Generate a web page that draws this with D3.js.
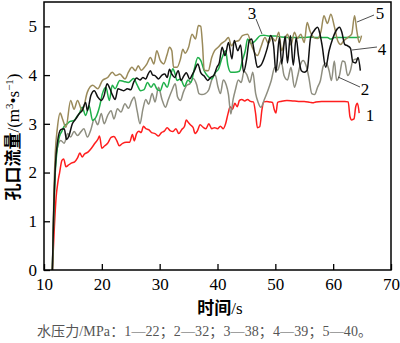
<!DOCTYPE html>
<html><head><meta charset="utf-8">
<script src="https://cdn.jsdelivr.net/npm/d3@7"></script>
<style>body{margin:0;background:#fff}svg{display:block}</style>
</head><body>
<svg id="c" width="400" height="343"></svg>
<script>
const xTicks=[10,20,30,40,50,60,70];
const yTicks=[0,1,2,3,4,5];
const seriesNames=["1","2","3","4","5"];
const legendNote="水压力/MPa：1—22；2—32；3—38；4—39；5—40。";

const t1=[11.45,11.8,12.1,12.4,12.7,13.1,13.4,13.8,14.2,14.8,15.3,15.8,16.2,16.6,17.0,17.6,18.2,18.8,19.3,19.6,20.0,20.5,21.0,21.6,22.1,22.6,23.0,23.6,24.2,24.8,25.3,25.6,26.0,26.4,26.8,27.2,27.6,28.1,28.6,29.2,29.8,30.3,30.8,31.3,31.8,32.3,32.8,33.3,33.8,34.3,34.6,35.0,35.4,35.8,36.1,36.5,37.0,37.5,38.0,38.5,39.0,39.5,40.0,40.5,41.0,41.4,41.8,42.2,42.6,43.0,43.4,43.8,44.2,44.7,45.2,45.7,46.2,46.6,46.9,47.3,47.7,48.0,48.5,49.0,49.5,49.8,50.1,50.4,51.0,52.0,53.0,54.0,55.0,56.0,56.5,57.0,58.0,59.0,60.0,61.0,62.0,62.6,62.9,63.2,63.6,63.9,64.2,64.5];
const v1=[0,0.9,1.5,1.8,2.0,2.25,2.28,2.12,2.15,2.2,2.22,2.3,2.4,2.32,2.38,2.42,2.5,2.6,2.68,2.75,2.5,2.55,2.6,2.72,2.74,2.65,2.55,2.6,2.62,2.62,2.78,2.65,2.8,2.85,2.82,2.95,2.9,2.88,2.82,2.8,2.75,2.82,2.85,2.92,2.86,2.84,2.9,2.8,2.88,2.95,3.08,3.02,2.97,2.92,2.8,2.85,2.98,2.93,2.9,3.0,2.9,2.92,2.9,2.95,2.9,3.0,3.2,3.35,3.3,3.42,3.35,3.48,3.5,3.47,3.5,3.46,3.45,3.2,2.92,2.94,3.3,3.45,3.46,3.45,3.44,3.3,3.22,3.44,3.46,3.48,3.47,3.46,3.46,3.44,3.43,3.45,3.46,3.46,3.46,3.46,3.46,3.45,3.15,3.08,3.1,3.35,3.42,3.22];

const t2=[11.45,11.7,11.95,12.3,12.9,13.5,14.1,14.6,15.2,15.8,16.4,16.9,17.5,18.1,18.7,19.3,19.9,20.4,21.0,21.6,22.1,22.7,23.3,24.0,24.6,25.2,25.6,26.1,26.6,27.1,27.6,28.1,28.7,29.2,29.8,30.4,31.0,31.5,32.1,32.7,33.1,33.6,34.1,34.7,35.2,35.8,36.4,36.8,37.3,37.9,38.5,39.0,39.6,40.1,40.5,41.0,41.5,41.9,42.3,42.7,43.1,43.6,44.1,44.6,45.1,45.6,46.1,46.6,47.0,47.5,48.1,48.7,49.3,49.9,50.4,51.0,51.5,52.1,52.7,53.3,53.8,54.3,54.8,55.3,55.8,56.3,56.8,57.3,57.8,58.3,58.8,59.3,59.7,60.2,60.6,61.1,61.6,62.0,62.5,63.0,63.4,64.0,64.5];
const v2=[0,1.3,2.1,2.5,2.66,2.6,2.8,2.73,2.84,2.76,2.84,2.9,2.73,2.88,3.1,2.98,3.21,3.0,3.17,3.27,3.1,3.31,3.24,3.41,3.32,3.48,3.55,3.27,3.0,3.3,3.5,3.4,3.62,3.45,3.75,3.5,3.34,3.5,3.68,3.82,3.55,3.48,3.65,3.79,3.82,3.93,3.8,3.62,3.6,3.62,3.7,3.9,4.0,3.75,3.62,3.9,3.8,3.6,3.2,3.5,3.7,3.9,3.85,4.08,4.0,3.85,4.06,3.62,3.45,3.34,3.5,3.68,3.89,4.16,4.1,4.3,3.99,3.9,4.16,3.75,3.95,4.2,4.3,4.2,3.95,3.62,3.6,3.75,3.89,4.19,4.25,4.09,3.89,4.29,3.89,4.0,4.29,4.27,3.99,4.1,4.3,4.33,4.32];

const t3=[11.45,11.7,11.95,12.3,12.7,13.1,13.5,14.0,14.5,15.2,15.7,16.1,16.6,17.2,17.8,18.4,19.0,19.6,20.1,20.7,21.3,21.8,22.3,23.1,23.8,24.6,25.5,26.1,26.7,27.3,27.9,28.5,29.0,29.6,30.1,30.7,31.3,31.8,32.3,32.6,33.0,33.6,34.3,34.9,35.4,36.0,36.6,37.1,37.7,38.3,39.0,39.6,40.2,40.8,41.4,41.8,42.3,43.0,43.8,44.3,44.8,45.2,45.8,46.5,47.4,48.0,49.0,50.0,51.0,52.0,53.0,54.0,55.0,56.0,57.0,58.0,59.0,59.6,60.2,61.0,62.0,63.0,64.0,64.6];
const v3=[0,1.2,2.0,2.5,2.75,2.85,2.95,3.0,3.05,3.07,3.15,3.21,3.34,3.17,3.37,3.07,3.14,3.35,3.62,3.75,3.48,3.79,3.72,3.89,3.87,3.85,3.93,3.8,3.68,3.7,3.85,3.75,3.82,3.7,3.68,3.85,3.75,3.95,4.13,4.05,3.89,3.92,3.77,3.9,3.85,4.13,4.36,4.3,4.09,3.98,3.92,4.05,4.13,4.36,4.5,4.2,4.06,4.06,4.08,4.3,4.5,4.74,4.65,4.7,4.81,4.82,4.8,4.8,4.78,4.77,4.77,4.77,4.77,4.78,4.77,4.77,4.77,4.74,4.77,4.77,4.77,4.77,4.77,4.78];

const t4=[11.45,11.7,11.95,12.3,12.9,13.5,13.9,14.3,14.9,15.5,16.1,16.6,17.2,17.5,18.1,18.7,19.3,19.9,20.4,20.9,21.4,21.8,22.3,22.8,23.3,23.8,24.4,25.0,25.5,26.0,26.6,27.1,27.6,28.0,28.4,28.8,29.2,29.8,30.4,30.9,31.3,31.7,32.1,32.6,33.2,33.7,34.2,34.6,35.2,35.6,36.0,36.6,37.1,37.7,38.3,38.8,39.4,39.9,40.3,40.8,41.3,41.9,42.5,42.9,43.5,44.0,44.5,45.0,45.5,45.9,46.4,46.9,47.5,48.1,48.6,49.2,49.7,50.1,50.7,51.1,51.7,52.1,52.6,53.1,53.6,54.0,54.5,55.0,55.5,56.1,56.7,57.3,57.7,58.1,58.7,59.3,59.9,60.5,61.1,61.5,62.0,62.5,63.0,63.4,63.9,64.3,64.7];
const v4=[0,1.3,2.1,2.6,2.88,2.9,2.68,2.75,3.0,3.1,3.21,3.27,3.44,3.27,3.58,3.68,3.55,3.48,3.58,3.82,3.72,3.6,3.5,3.72,3.7,3.68,3.72,3.7,3.85,3.94,3.9,3.95,3.92,4.02,4.09,4.0,3.99,3.92,4.0,4.02,3.95,4.12,4.02,3.95,4.09,3.89,3.99,4.05,3.92,4.0,4.09,4.23,4.05,3.98,3.89,3.95,4.0,4.16,4.25,4.57,4.4,4.67,4.33,4.71,4.5,4.62,4.06,4.3,4.71,4.74,4.45,4.16,4.2,4.36,4.55,4.81,4.6,4.06,4.77,4.23,4.8,4.25,4.81,4.2,4.77,4.4,4.09,4.06,4.1,4.77,4.91,4.98,4.85,4.6,4.16,4.5,4.74,4.91,4.98,4.88,4.63,4.6,4.55,4.27,4.25,4.36,4.09];

const t5=[11.45,11.7,11.95,12.3,12.8,13.2,13.8,14.6,15.2,15.8,16.6,17.5,18.4,19.3,20.1,21.0,21.8,22.4,23.1,24.0,24.6,25.2,25.8,26.3,26.8,27.3,27.8,28.4,29.0,29.5,30.1,30.7,31.3,31.7,32.1,32.4,33.0,33.6,34.0,34.4,35.0,35.6,36.2,36.7,37.1,37.4,37.7,38.4,39.0,39.5,40.1,40.7,41.3,41.9,42.4,42.9,43.7,44.3,45.2,46.0,46.9,47.5,48.2,48.8,49.4,50.0,50.6,51.1,51.6,52.1,52.7,53.3,53.8,54.4,55.0,55.5,56.0,56.7,57.3,57.9,58.4,59.0,59.6,60.2,60.8,61.3,61.8,62.5,63.2,63.7,64.1,64.5,64.9];
const v5=[0,1.5,2.4,2.9,3.22,3.1,2.93,3.48,3.3,3.48,3.27,3.65,3.79,3.72,3.89,3.95,4.06,3.99,4.02,3.92,4.06,4.16,4.09,4.19,4.1,4.15,4.23,4.36,4.23,4.5,4.3,4.23,4.43,4.57,4.5,4.16,4.16,4.33,4.53,4.45,4.57,4.84,4.74,5.02,5.0,4.64,4.1,4.09,4.36,4.5,4.57,4.65,4.7,4.77,4.6,4.68,4.71,4.81,4.84,4.57,4.4,4.57,4.77,4.65,4.77,4.7,4.88,4.5,4.7,4.84,4.62,4.88,4.75,4.84,4.67,5.08,4.9,4.77,4.75,4.9,5.22,5.06,5.25,5.0,4.7,4.63,4.7,4.77,4.84,5.22,4.9,4.67,4.81];

const series=[
 {name:"1",t:t1,v:v1,color:"#ff1e1e"},
 {name:"2",t:t2,v:v2,color:"#8e8e80"},
 {name:"3",t:t3,v:v3,color:"#1fb04a"},
 {name:"5",t:t5,v:v5,color:"#9a8a5a"},
 {name:"4",t:t4,v:v4,color:"#111111"}
];

const L=44,R=391,T=2,B=270;
const x=d3.scaleLinear().domain([10,70]).range([L,R]);
const y=d3.scaleLinear().domain([0,5.5]).range([B,T]);
const svg=d3.select("#c");
const serif="'Liberation Serif','Times New Roman',serif";

const line=d3.line().x(d=>x(d[0])).y(d=>y(d[1])).curve(d3.curveMonotoneX);
series.forEach(s=>{
  svg.append("path").datum(s.t.map((t,i)=>[t,s.v[i]]))
    .attr("d",line).attr("fill","none").attr("stroke",s.color)
    .attr("stroke-width",1.5).attr("stroke-linejoin","round");
});

// frame
svg.append("rect").attr("x",L).attr("y",T).attr("width",R-L).attr("height",B-T)
  .attr("fill","none").attr("stroke","#000").attr("stroke-width",1.5);

const gx=svg.append("g").attr("transform",`translate(0,${B})`)
  .call(d3.axisBottom(x).tickValues(xTicks).tickFormat(d3.format("d")).tickSizeInner(-6).tickSizeOuter(0).tickPadding(8));
const gy=svg.append("g").attr("transform",`translate(${L},0)`)
  .call(d3.axisLeft(y).tickValues(yTicks).tickFormat(d3.format("d")).tickSizeInner(-6).tickSizeOuter(0).tickPadding(7));
[gx,gy].forEach(g=>{
  g.select(".domain").remove();
  g.selectAll("line").attr("stroke","#000").attr("stroke-width",1.3);
  g.selectAll("text").attr("font-family",serif).attr("font-size",17).attr("fill","#000");
});

// axis titles
const xt=svg.append("text").attr("x",220).attr("y",314).attr("text-anchor","middle")
  .attr("font-size",17).attr("fill","#000");
xt.append("tspan").attr("font-family","'Noto Sans CJK SC'").attr("font-weight","bold").text("时间");
xt.append("tspan").attr("font-family",serif).text("/s");

const yt=svg.append("text").attr("transform","translate(19,137) rotate(-90)")
  .attr("text-anchor","middle").attr("font-size",17).attr("fill","#000");
yt.append("tspan").attr("font-family","'Noto Sans CJK SC'").attr("font-weight","bold").text("孔口流量");
yt.append("tspan").attr("font-family",serif).text("/(m");
yt.append("tspan").attr("font-family",serif).attr("font-size",11).attr("dy",-6).text("3");
yt.append("tspan").attr("font-family",serif).attr("dy",6).text("•s");
yt.append("tspan").attr("font-family",serif).attr("font-size",11).attr("dy",-6).text("−1");
yt.append("tspan").attr("font-family",serif).attr("dy",6).text(")");

// series labels and leader lines
const labels=[
 {n:"1",lx:370,ly:121,line:null},
 {n:"2",lx:365,ly:95,line:[[360,87],[338,77]]},
 {n:"3",lx:252,ly:19,line:[[256,19],[262,34]]},
 {n:"4",lx:382,ly:55,line:[[377,47],[352,50]]},
 {n:"5",lx:380,ly:19,line:[[374,15],[357,22]]}
];
labels.forEach(l=>{
  if(l.line) svg.append("line").attr("x1",l.line[0][0]).attr("y1",l.line[0][1])
    .attr("x2",l.line[1][0]).attr("y2",l.line[1][1]).attr("stroke","#222").attr("stroke-width",0.8);
  svg.append("text").attr("x",l.lx).attr("y",l.ly).attr("text-anchor","middle")
    .attr("font-family",serif).attr("font-size",17).attr("fill","#000").text(l.n);
});

svg.append("text").attr("x",37).attr("y",336).attr("font-family",serif+",'Noto Sans CJK SC'")
  .attr("font-size",14).attr("fill","#555").attr("textLength",335).attr("lengthAdjust","spacing").text(legendNote);
</script>
</body></html>
